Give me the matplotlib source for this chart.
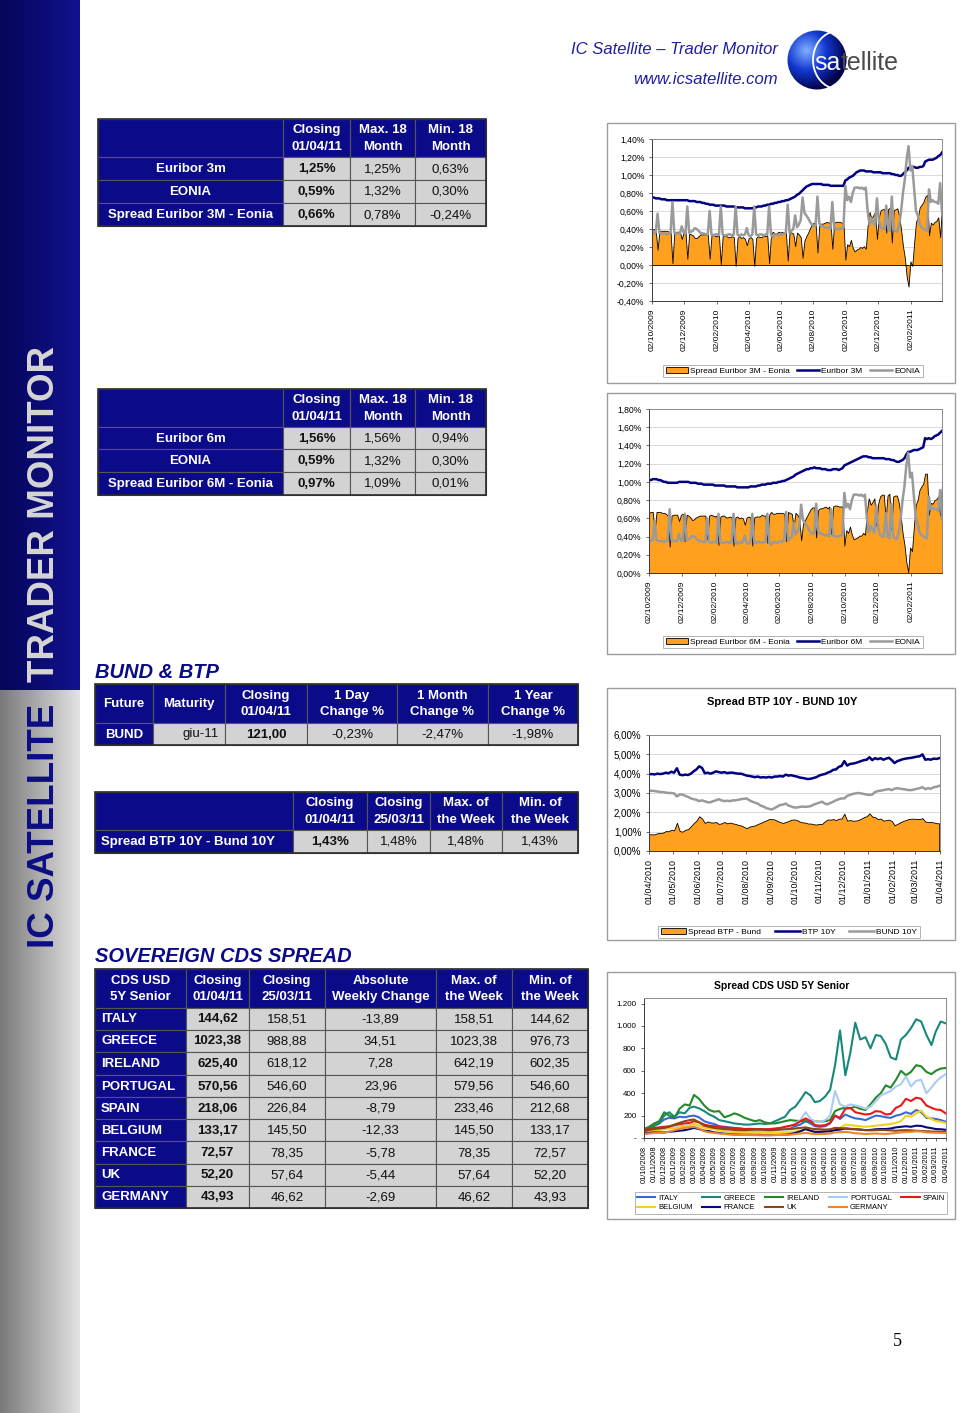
"""
IC Satellite - Trader Monitor, page 5: money market, BTP/Bund and sovereign CDS.
Run: python plot.py  -> out.png
"""
import numpy as np
import pandas as pd
import matplotlib
matplotlib.use("Agg")
import matplotlib.pyplot as plt
from matplotlib.dates import DateFormatter
from matplotlib.patches import Rectangle, Circle, Arc
from matplotlib.ticker import FuncFormatter, MultipleLocator
from matplotlib.colors import LinearSegmentedColormap

plt.rcParams['font.family'] = ['Liberation Sans', 'DejaVu Sans']

# ---------- table data ----------
T1_HEAD = ["", "Closing\n01/04/11", "Max. 18\nMonth", "Min. 18\nMonth"]
T1_ROWS = ["Euribor 3m", "EONIA", "Spread Euribor 3M - Eonia"]
T1_VALS = [["1,25%", "1,25%", "0,63%"],
           ["0,59%", "1,32%", "0,30%"],
           ["0,66%", "0,78%", "-0,24%"]]

T2_HEAD = ["", "Closing\n01/04/11", "Max. 18\nMonth", "Min. 18\nMonth"]
T2_ROWS = ["Euribor 6m", "EONIA", "Spread Euribor 6M - Eonia"]
T2_VALS = [["1,56%", "1,56%", "0,94%"],
           ["0,59%", "1,32%", "0,30%"],
           ["0,97%", "1,09%", "0,01%"]]

BUND_HEAD = ["Future", "Maturity", "Closing\n01/04/11", "1 Day\nChange %",
             "1 Month\nChange %", "1 Year\nChange %"]
BUND_ROWS = ["BUND"]
BUND_VALS = [["giu-11", "121,00", "-0,23%", "-2,47%", "-1,98%"]]

BTP_HEAD = ["", "Closing\n01/04/11", "Closing\n25/03/11", "Max. of\nthe Week", "Min. of\nthe Week"]
BTP_ROWS = ["Spread BTP 10Y - Bund 10Y"]
BTP_VALS = [["1,43%", "1,48%", "1,48%", "1,43%"]]

CDS_HEAD = ["CDS USD\n5Y Senior", "Closing\n01/04/11", "Closing\n25/03/11",
            "Absolute\nWeekly Change", "Max. of\nthe Week", "Min. of\nthe Week"]
CDS_ROWS = ["ITALY", "GREECE", "IRELAND", "PORTUGAL", "SPAIN", "BELGIUM", "FRANCE", "UK", "GERMANY"]
CDS_VALS = [["144,62", "158,51", "-13,89", "158,51", "144,62"],
            ["1023,38", "988,88", "34,51", "1023,38", "976,73"],
            ["625,40", "618,12", "7,28", "642,19", "602,35"],
            ["570,56", "546,60", "23,96", "579,56", "546,60"],
            ["218,06", "226,84", "-8,79", "233,46", "212,68"],
            ["133,17", "145,50", "-12,33", "145,50", "133,17"],
            ["72,57", "78,35", "-5,78", "78,35", "72,57"],
            ["52,20", "57,64", "-5,44", "57,64", "52,20"],
            ["43,93", "46,62", "-2,69", "46,62", "43,93"]]

# ---------- money market series (every 3.5 days, 02/10/2009 -> 01/04/2011), % ----------
EURIBOR_3M = [
    0.75, 0.75, 0.74, 0.74, 0.74, 0.73, 0.73, 0.73, 0.72, 0.72,
    0.72, 0.72, 0.72, 0.72, 0.72, 0.72, 0.72, 0.72, 0.72, 0.72,
    0.71, 0.71, 0.71, 0.71, 0.70, 0.70, 0.70, 0.69, 0.69, 0.68,
    0.68, 0.67, 0.67, 0.67, 0.66, 0.66, 0.66, 0.66, 0.66, 0.66,
    0.65, 0.65, 0.65, 0.65, 0.65, 0.64, 0.64, 0.64, 0.64, 0.64,
    0.63, 0.63, 0.63, 0.63, 0.63, 0.64, 0.64, 0.65, 0.65, 0.65,
    0.66, 0.66, 0.67, 0.67, 0.68, 0.68, 0.69, 0.69, 0.70, 0.70,
    0.71, 0.71, 0.72, 0.72, 0.73, 0.74, 0.75, 0.76, 0.78, 0.79,
    0.81, 0.83, 0.85, 0.87, 0.88, 0.89, 0.90, 0.90, 0.90, 0.90,
    0.90, 0.90, 0.89, 0.89, 0.89, 0.89, 0.88, 0.88, 0.88, 0.88,
    0.88, 0.88, 0.88, 0.88, 0.94, 0.95, 0.97, 0.98, 0.99, 1.01,
    1.03, 1.04, 1.05, 1.05, 1.05, 1.04, 1.04, 1.04, 1.04, 1.03,
    1.03, 1.03, 1.03, 1.03, 1.02, 1.02, 1.02, 1.02, 1.02, 1.01,
    1.01, 1.00, 1.00, 0.99, 0.99, 1.01, 1.03, 1.05, 1.08, 1.09,
    1.09, 1.09, 1.08, 1.08, 1.09, 1.09, 1.10, 1.15, 1.16, 1.17,
    1.17, 1.17, 1.18, 1.19, 1.21, 1.22, 1.25]

EURIBOR_6M = [
    1.02, 1.02, 1.03, 1.03, 1.03, 1.02, 1.02, 1.01, 1.00, 1.00,
    0.99, 0.99, 0.99, 0.99, 0.99, 0.99, 1.00, 1.00, 1.00, 1.00,
    1.00, 1.00, 0.99, 0.99, 0.99, 0.99, 0.98, 0.98, 0.98, 0.97,
    0.97, 0.97, 0.97, 0.97, 0.97, 0.96, 0.96, 0.96, 0.96, 0.96,
    0.96, 0.95, 0.95, 0.95, 0.95, 0.95, 0.95, 0.94, 0.94, 0.94,
    0.94, 0.94, 0.94, 0.94, 0.95, 0.95, 0.95, 0.95, 0.96, 0.96,
    0.97, 0.97, 0.97, 0.98, 0.98, 0.98, 0.99, 0.99, 0.99, 1.00,
    1.00, 1.01, 1.01, 1.02, 1.03, 1.04, 1.05, 1.06, 1.08, 1.09,
    1.10, 1.11, 1.12, 1.13, 1.14, 1.14, 1.15, 1.15, 1.16, 1.15,
    1.15, 1.15, 1.14, 1.14, 1.14, 1.13, 1.13, 1.13, 1.14, 1.14,
    1.14, 1.13, 1.14, 1.15, 1.18, 1.19, 1.20, 1.21, 1.22, 1.23,
    1.24, 1.25, 1.26, 1.27, 1.28, 1.28, 1.28, 1.27, 1.27, 1.26,
    1.26, 1.26, 1.26, 1.26, 1.26, 1.26, 1.25, 1.25, 1.25, 1.24,
    1.24, 1.23, 1.22, 1.22, 1.23, 1.24, 1.26, 1.30, 1.33, 1.33,
    1.34, 1.35, 1.35, 1.35, 1.36, 1.37, 1.38, 1.48, 1.47, 1.48,
    1.47, 1.48, 1.50, 1.51, 1.52, 1.54, 1.56]

EONIA = [
    0.36, 0.35, 0.36, 0.57, 0.36, 0.35, 0.35, 0.35, 0.34, 0.35,
    0.36, 0.70, 0.36, 0.35, 0.35, 0.35, 0.43, 0.36, 0.35, 0.65,
    0.36, 0.37, 0.38, 0.41, 0.40, 0.38, 0.36, 0.35, 0.35, 0.34,
    0.34, 0.60, 0.34, 0.33, 0.34, 0.34, 0.33, 0.65, 0.34, 0.33,
    0.33, 0.34, 0.34, 0.33, 0.34, 0.65, 0.34, 0.32, 0.34, 0.33,
    0.34, 0.41, 0.33, 0.32, 0.34, 0.65, 0.34, 0.33, 0.34, 0.34,
    0.33, 0.34, 0.34, 0.65, 0.34, 0.31, 0.34, 0.34, 0.33, 0.34,
    0.34, 0.35, 0.36, 0.67, 0.36, 0.38, 0.40, 0.55, 0.42, 0.45,
    0.50, 0.75, 0.58, 0.55, 0.52, 0.48, 0.45, 0.43, 0.44, 0.76,
    0.46, 0.44, 0.43, 0.42, 0.41, 0.42, 0.40, 0.70, 0.41, 0.40,
    0.40, 0.40, 0.41, 0.42, 0.88, 0.72, 0.76, 0.70, 0.80, 0.86,
    0.86, 0.86, 0.85, 0.86, 0.84, 0.86, 0.60, 0.45, 0.52, 0.48,
    0.44, 0.74, 0.50, 0.42, 0.40, 0.40, 0.66, 0.40, 0.38, 0.76,
    0.40, 0.38, 0.37, 0.45, 0.60, 0.80, 0.95, 1.18, 1.32, 1.05,
    1.10, 0.85, 0.60, 0.55, 0.45, 0.42, 0.40, 0.39, 0.38, 0.84,
    0.70, 0.72, 0.70, 0.70, 0.68, 0.91, 0.59]

# ---------- 10Y yields (every 3.5 days, 01/04/2010 -> 01/04/2011), % ----------
BTP_10Y = [
    3.97, 3.98, 3.96, 4.00, 3.98, 4.00, 4.05, 4.02, 4.10, 4.05,
    4.28, 3.95, 3.92, 3.95, 3.93, 4.00, 4.12, 4.22, 4.38, 4.30,
    4.02, 4.05, 4.00, 4.05, 4.12, 4.08, 4.05, 4.08, 4.03, 4.05,
    4.05, 4.02, 4.00, 4.00, 3.95, 3.90, 3.88, 3.85, 3.82, 3.85,
    3.80, 3.82, 3.80, 3.83, 3.80, 3.85, 3.85, 3.88, 3.85, 3.95,
    3.90, 3.92, 3.88, 3.85, 3.80, 3.78, 3.75, 3.72, 3.74, 3.78,
    3.82, 3.90, 3.95, 3.98, 4.05, 4.10, 4.20, 4.22, 4.35, 4.40,
    4.65, 4.42, 4.50, 4.52, 4.55, 4.60, 4.65, 4.70, 4.72, 4.85,
    4.70, 4.80, 4.75, 4.80, 4.72, 4.78, 4.82, 4.70, 4.55, 4.65,
    4.70, 4.75, 4.78, 4.80, 4.82, 4.85, 4.88, 4.90, 5.00, 4.72,
    4.75, 4.72, 4.78, 4.76, 4.80]

BUND_10Y = [
    3.10, 3.12, 3.10, 3.08, 3.05, 3.05, 3.02, 3.00, 3.00, 2.98,
    2.82, 2.92, 2.92, 2.85, 2.80, 2.72, 2.68, 2.65, 2.58, 2.62,
    2.57, 2.52, 2.52, 2.58, 2.62, 2.68, 2.62, 2.58, 2.60, 2.58,
    2.62, 2.62, 2.65, 2.68, 2.70, 2.72, 2.62, 2.55, 2.50, 2.45,
    2.35, 2.30, 2.22, 2.18, 2.15, 2.22, 2.30, 2.38, 2.40, 2.45,
    2.35, 2.30, 2.25, 2.25, 2.28, 2.30, 2.28, 2.30, 2.32, 2.40,
    2.45, 2.50, 2.55, 2.45, 2.42, 2.48, 2.55, 2.62, 2.68, 2.72,
    2.72, 2.85, 2.90, 2.95, 2.98, 3.00, 2.98, 2.95, 2.92, 2.90,
    2.92, 3.05, 3.10, 3.12, 3.15, 3.18, 3.20, 3.15, 3.22, 3.25,
    3.22, 3.20, 3.18, 3.15, 3.15, 3.18, 3.22, 3.25, 3.30, 3.20,
    3.25, 3.22, 3.30, 3.32, 3.37]

# ---------- CDS USD 5Y senior (1st and 16th of month, 01/10/2008 -> 01/04/2011), bp ----------
CDS_ITALY = [75, 90, 110, 130, 165, 180, 175, 190, 185, 195, 200, 185,
             150, 135, 125, 105, 100, 95, 90, 85, 80, 82, 80, 78,
             75, 78, 80, 85, 90, 95, 105, 120, 150, 130, 105, 100,
             105, 130, 200, 170, 210, 190, 175, 170, 160, 180, 200, 195,
             185, 180, 200, 210, 230, 215, 250, 230, 180, 175, 170, 160, 145]
CDS_GREECE = [75, 90, 110, 130, 200, 230, 190, 230, 220, 270, 280, 265,
              240, 210, 190, 160, 150, 140, 130, 125, 120, 120, 125, 130,
              125, 130, 150, 170, 190, 250, 280, 340, 410, 380, 320, 330,
              370, 430, 650, 960, 560, 760, 1030, 880, 900, 800, 920, 910,
              840, 720, 700, 880, 920, 980, 1060, 1040, 920, 830, 950, 1040, 1023]
CDS_IRELAND = [80, 100, 130, 150, 230, 200, 180, 260, 300, 290, 385, 350,
               290, 250, 235, 240, 185, 200, 220, 205, 180, 165, 150, 160,
               140, 130, 130, 140, 150, 160, 155, 150, 150, 150, 150, 145,
               150, 160, 240, 260, 270, 265, 280, 260, 250, 300, 360, 400,
               470, 450, 520, 600, 560, 590, 650, 640, 590, 570, 600, 620, 625]
CDS_PORTUGAL = [40, 50, 60, 70, 90, 100, 95, 110, 105, 115, 120, 110,
                95, 85, 80, 75, 70, 65, 65, 62, 60, 60, 58, 60,
                60, 62, 65, 75, 85, 100, 130, 160, 230, 170, 150, 140,
                160, 200, 420, 300, 280, 300, 290, 280, 260, 280, 330, 380,
                400, 420, 460, 480, 550, 460, 510, 520, 400, 450, 500, 540, 571]
CDS_SPAIN = [70, 80, 90, 95, 100, 105, 115, 125, 130, 135, 150, 140,
             120, 110, 105, 100, 95, 90, 88, 85, 80, 80, 78, 80,
             78, 80, 85, 90, 100, 110, 120, 150, 175, 150, 115, 110,
             115, 135, 200, 180, 260, 270, 230, 220, 210, 215, 240, 235,
             210, 215, 270, 290, 350, 330, 360, 350, 290, 270, 255, 250, 218]
CDS_BELGIUM = [40, 50, 60, 70, 80, 85, 90, 95, 100, 110, 130, 110,
               90, 85, 80, 70, 60, 55, 50, 48, 45, 45, 45, 45,
               45, 45, 48, 50, 52, 55, 58, 65, 75, 65, 55, 55,
               58, 65, 80, 90, 120, 115, 110, 105, 100, 105, 110, 115,
               120, 125, 135, 150, 200, 190, 220, 245, 190, 170, 150, 145, 133]
CDS_FRANCE = [40, 45, 50, 50, 50, 55, 60, 65, 70, 80, 90, 80,
              65, 60, 50, 45, 38, 35, 32, 30, 28, 28, 27, 27,
              26, 26, 27, 28, 30, 35, 45, 60, 80, 65, 55, 55,
              58, 60, 70, 75, 85, 80, 78, 75, 70, 72, 78, 80,
              80, 85, 95, 100, 105, 100, 110, 108, 95, 88, 80, 78, 73]
CDS_UK = [60, 70, 80, 85, 90, 100, 120, 135, 150, 160, 165, 140,
          110, 100, 90, 85, 80, 78, 72, 70, 70, 72, 75, 75,
          72, 70, 72, 75, 78, 80, 85, 90, 95, 85, 80, 78,
          75, 78, 90, 88, 85, 82, 80, 75, 70, 68, 70, 72,
          70, 68, 65, 68, 70, 68, 65, 63, 60, 58, 57, 56, 52]
CDS_GERMANY = [35, 40, 45, 48, 50, 55, 70, 80, 90, 95, 100, 85,
               60, 50, 45, 40, 35, 32, 30, 28, 27, 26, 26, 25,
               25, 25, 26, 27, 28, 30, 35, 40, 45, 40, 35, 35,
               36, 40, 50, 52, 55, 50, 42, 40, 35, 38, 40, 38,
               35, 40, 45, 50, 55, 55, 60, 58, 50, 48, 47, 46, 44]

CDS_SERIES = [("ITALY", CDS_ITALY), ("GREECE", CDS_GREECE), ("IRELAND", CDS_IRELAND),
              ("PORTUGAL", CDS_PORTUGAL), ("SPAIN", CDS_SPAIN), ("BELGIUM", CDS_BELGIUM),
              ("FRANCE", CDS_FRANCE), ("UK", CDS_UK), ("GERMANY", CDS_GERMANY)]

# ---------- styling ----------
W, H = 960, 1413
NAVY = '#0b0b8a'
CELL_GREY = '#d3d3d3'
ORANGE = '#ffa01e'
LINE_NAVY = '#000080'
LINE_GREY = '#9a9a9a'
CDS_COLORS = {"ITALY": '#3a68d8', "GREECE": '#17897a', "IRELAND": '#23892b',
              "PORTUGAL": '#a9ccf2', "SPAIN": '#e81818', "BELGIUM": '#f2d21c',
              "FRANCE": '#08087a', "UK": '#8a4616', "GERMANY": '#f0842a'}

fig = plt.figure(figsize=(W / 100, H / 100), dpi=100)
bg = fig.add_axes([0, 0, 1, 1])
bg.axis('off')
bg.set_xlim(0, W)
bg.set_ylim(H, 0)
bg.set_autoscale_on(False)


def add_axes_px(x0, y0, x1, y1):
    return fig.add_axes([x0 / W, 1 - y1 / H, (x1 - x0) / W, (y1 - y0) / H])


def fig_pt(x, y):
    return (x / W, 1 - y / H)


def cell(x0, y0, x1, y1, color):
    bg.add_patch(Rectangle((x0, y0), x1 - x0, y1 - y0, facecolor=color,
                           edgecolor='#555555', lw=0.8, zorder=2))


def draw_table(xs, ys, head, labels, values, label_ha='center', aligns=None, bold_col=0, fs=9.5):
    ncol = len(xs) - 1
    for c in range(ncol):
        cell(xs[c], ys[0], xs[c + 1], ys[1], NAVY)
        if head[c]:
            bg.text((xs[c] + xs[c + 1]) / 2, (ys[0] + ys[1]) / 2 + 0.5, head[c], color='white',
                    fontweight='bold', fontsize=fs, ha='center', va='center', linespacing=1.5, zorder=3)
    for r, lab in enumerate(labels):
        y0, y1 = ys[r + 1], ys[r + 2]
        ym = (y0 + y1) / 2 + 0.5
        cell(xs[0], y0, xs[1], y1, NAVY)
        if label_ha == 'left':
            bg.text(xs[0] + 6, ym, lab, color='white', fontweight='bold', fontsize=fs,
                    ha='left', va='center', zorder=3)
        else:
            bg.text((xs[0] + xs[1]) / 2, ym, lab, color='white', fontweight='bold', fontsize=fs,
                    ha='center', va='center', zorder=3)
        for c, v in enumerate(values[r]):
            x0, x1 = xs[c + 1], xs[c + 2]
            cell(x0, y0, x1, y1, CELL_GREY)
            ha = aligns[c] if aligns else 'center'
            tx = x1 - 6 if ha == 'right' else (x0 + x1) / 2
            bg.text(tx, ym, v, color='#111111', fontsize=fs, ha=ha, va='center',
                    fontweight='bold' if c == bold_col else 'normal', zorder=3)
    bg.add_patch(Rectangle((xs[0], ys[0]), xs[-1] - xs[0], ys[-1] - ys[0], fill=False,
                           edgecolor='#2a2a2a', lw=1.2, zorder=4))


# ---------- side bar ----------
ramp = np.linspace(0, 1, 80).reshape(1, -1)
bg.imshow(ramp, extent=(0, 80, 690, 0), aspect='auto', zorder=1,
          cmap=LinearSegmentedColormap.from_list('nv', ['#05055a', '#12128e']))
bg.imshow(ramp, extent=(0, 80, H, 690), aspect='auto', zorder=1,
          cmap=LinearSegmentedColormap.from_list('gr', ['#7a7a7a', '#e2e2e2']))
bg.text(45, 682, 'TRADER MONITOR', rotation=90, ha='center', va='bottom', color='#d6d6d6',
        fontsize=26.5, fontweight='bold', zorder=3)
bg.text(45, 948, 'IC SATELLITE', rotation=90, ha='center', va='bottom', color='#0c0c84',
        fontsize=26.5, fontweight='bold', zorder=3)

# ---------- header + logo ----------
bg.text(778, 50, 'IC Satellite \u2013 Trader Monitor', ha='right', va='center', fontsize=12,
        style='italic', color='#1f1fa0')
bg.text(778, 79, 'www.icsatellite.com', ha='right', va='center', fontsize=12,
        style='italic', color='#1f1fa0')
gy, gx = np.mgrid[30:91, 786:849]
glow = np.clip(np.hypot(gx - 806, gy - 50) / 40.0, 0, 1)
sphere = bg.imshow(glow, extent=(786, 849, 91, 30), aspect='auto', zorder=2,
                   cmap=LinearSegmentedColormap.from_list('sp', ['#7fb0ff', '#1238d0', '#020248']))
sphere.set_clip_path(Circle((817, 60), 29.5, transform=bg.transData))
bg.add_patch(Arc((838, 60), 50, 58, theta1=105, theta2=255, color='white', lw=1.3, zorder=3))
renderer = fig.canvas.get_renderer()
t_sa = bg.text(814, 70, 'sa', fontsize=18, color='#f4f4f4', va='baseline', ha='left', zorder=4)
sa_end = bg.transData.inverted().transform(t_sa.get_window_extent(renderer).get_points())[1][0]
bg.text(sa_end, 70, 'tellite', fontsize=18, color='#4a4a4a', va='baseline', ha='left', zorder=3)

# ---------- tables ----------
draw_table([98, 283, 350, 415, 486], [119, 157, 180, 203, 226], T1_HEAD, T1_ROWS, T1_VALS)
draw_table([98, 283, 350, 415, 486], [389, 427, 449, 472, 495], T2_HEAD, T2_ROWS, T2_VALS)

bg.text(95, 672, 'BUND & BTP', fontsize=14.5, fontweight='bold', style='italic', color=NAVY, va='center')
draw_table([95, 153, 225, 307, 397, 488, 578], [684, 723, 745], BUND_HEAD, BUND_ROWS, BUND_VALS,
           aligns=['right', 'center', 'center', 'center', 'center'], bold_col=1)
draw_table([95, 293, 367, 430, 502, 578], [792, 830, 853], BTP_HEAD, BTP_ROWS, BTP_VALS,
           label_ha='left')

bg.text(95, 957, 'SOVEREIGN CDS SPREAD', fontsize=14.5, fontweight='bold', style='italic',
        color=NAVY, va='center')
draw_table([95, 186, 249, 325, 436, 512, 588],
           [969, 1008, 1030, 1052, 1075, 1097, 1119, 1141, 1164, 1186, 1208],
           CDS_HEAD, CDS_ROWS, CDS_VALS, label_ha='left')

bg.text(897, 1342, '5', family='Liberation Serif', fontsize=13, ha='center', va='center')

# chart frames
for (x0, y0, x1, y1) in [(607, 123, 955, 383), (607, 393, 955, 654),
                         (607, 688, 955, 940), (607, 972, 955, 1219)]:
    bg.add_patch(Rectangle((x0, y0), x1 - x0, y1 - y0, facecolor='white',
                           edgecolor='#9c9c9c', lw=1.0, zorder=1))
bg.text(782, 702, 'Spread BTP 10Y - BUND 10Y', fontsize=8, fontweight='bold', ha='center', va='center')
bg.text(782, 986, 'Spread CDS USD 5Y Senior', fontsize=7.5, fontweight='bold', ha='center', va='center')


# ---------- charts ----------
def pct_fmt(v, _):
    v = round(v, 2) + 0.0
    return f"{v:.2f}%".replace('.', ',')


def cds_fmt(v, _):
    if abs(v) < 1e-9:
        return '-'
    return f"{int(round(v)):,}".replace(',', '.')


def style_chart(ax, ysize, xsize):
    ax.tick_params(axis='both', length=2.5, width=0.6, color='#555555', pad=2)
    ax.tick_params(axis='y', labelsize=ysize, pad=3)
    ax.tick_params(axis='x', labelsize=xsize, rotation=90, pad=3)
    for s in ax.spines.values():
        s.set_color('#8c8c8c')
        s.set_linewidth(0.7)
    ax.spines['left'].set_color('#3c3c3c')
    ax.spines['bottom'].set_color('#3c3c3c')


def chart_legend(ax, handles, labels, cx, cy, ncol, fs, **kw):
    leg = ax.legend(handles, labels, loc='center', bbox_to_anchor=fig_pt(cx, cy),
                    bbox_transform=fig.transFigure, ncol=ncol, fontsize=fs, frameon=True,
                    fancybox=False, edgecolor='#a0a0a0', borderpad=0.3, **kw)
    leg.get_frame().set_linewidth(0.7)
    return leg


n_mm = min(len(EONIA), len(EURIBOR_3M), len(EURIBOR_6M))
mm_dates = pd.date_range('2009-10-02', periods=n_mm, freq='84h')
eonia = np.array(EONIA[:n_mm])
eur3 = np.array(EURIBOR_3M[:n_mm])
eur6 = np.array(EURIBOR_6M[:n_mm])
mm_ticks = pd.date_range('2009-10-01', periods=9, freq='2MS') + pd.Timedelta(days=1)

for box, eur, ylim, name, leg_y in [((652, 139, 942, 301), eur3, (-0.4, 1.4), '3M', 371),
                                    ((649, 409, 942, 573), eur6, (0.0, 1.8), '6M', 642)]:
    ax = add_axes_px(*box)
    area = ax.fill_between(mm_dates, 0, eur - eonia, facecolor=ORANGE, edgecolor='black', lw=0.6)
    l1, = ax.plot(mm_dates, eur, color=LINE_NAVY, lw=1.8)
    l2, = ax.plot(mm_dates, eonia, color=LINE_GREY, lw=1.8)
    ax.set_ylim(*ylim)
    ax.set_xlim(mm_dates[0], mm_dates[-1])
    ax.yaxis.set_major_locator(MultipleLocator(0.2))
    ax.yaxis.set_major_formatter(FuncFormatter(pct_fmt))
    ax.set_xticks(mm_ticks)
    ax.xaxis.set_major_formatter(DateFormatter('%d/%m/%Y'))
    ax.yaxis.grid(True, color='#d4d4d4', lw=0.6)
    ax.set_axisbelow(True)
    style_chart(ax, 6.2, 6.0)
    chart_legend(ax, [area, l1, l2], [f'Spread Euribor {name} - Eonia', f'Euribor {name}', 'EONIA'],
                 793, leg_y, 3, 6.0, handlelength=2.6, handletextpad=0.3, columnspacing=0.9)

# BTP - Bund
n_y = min(len(BTP_10Y), len(BUND_10Y))
y_dates = pd.date_range('2010-04-01', periods=n_y, freq='84h')
btp = np.array(BTP_10Y[:n_y])
bund = np.array(BUND_10Y[:n_y])
ax3 = add_axes_px(649, 735, 940, 851)
area = ax3.fill_between(y_dates, 0, btp - bund, facecolor=ORANGE, edgecolor='black', lw=0.6)
l1, = ax3.plot(y_dates, btp, color=LINE_NAVY, lw=1.8)
l2, = ax3.plot(y_dates, bund, color=LINE_GREY, lw=1.8)
ax3.set_ylim(0, 6)
ax3.set_xlim(pd.Timestamp('2010-04-01'), pd.Timestamp('2011-04-01'))
ax3.yaxis.set_major_locator(MultipleLocator(1))
ax3.yaxis.set_major_formatter(FuncFormatter(pct_fmt))
ax3.set_xticks(pd.date_range('2010-04-01', '2011-04-01', freq='MS'))
ax3.xaxis.set_major_formatter(DateFormatter('%d/%m/%Y'))
ax3.yaxis.grid(True, color='#d4d4d4', lw=0.6)
ax3.set_axisbelow(True)
style_chart(ax3, 7.0, 6.4)
chart_legend(ax3, [area, l1, l2], ['Spread BTP - Bund', 'BTP 10Y', 'BUND 10Y'],
             789, 932, 3, 6.0, handlelength=3.0, handletextpad=0.3, columnspacing=1.6)

# CDS
months = pd.date_range('2008-10-01', '2011-04-01', freq='MS')
cds_dates = months.append(months[:-1] + pd.Timedelta(days=15)).sort_values()
ax4 = add_axes_px(644, 998, 946, 1138)
cds_lines = {}
for name, vals in CDS_SERIES:
    k = min(len(vals), len(cds_dates))
    cds_lines[name], = ax4.plot(cds_dates[:k], vals[:k], color=CDS_COLORS[name], lw=1.5)
ax4.set_ylim(0, 1250)
ax4.set_xlim(cds_dates[0], cds_dates[-1])
ax4.set_yticks([0, 200, 400, 600, 800, 1000, 1200])
ax4.yaxis.set_major_formatter(FuncFormatter(cds_fmt))
ax4.set_xticks(months)
ax4.xaxis.set_major_formatter(DateFormatter('%d/%m/%Y'))
style_chart(ax4, 5.8, 5.3)
order = ["ITALY", "BELGIUM", "GREECE", "FRANCE", "IRELAND", "UK", "PORTUGAL", "GERMANY", "SPAIN"]
chart_legend(ax4, [cds_lines[o] for o in order], order, 791, 1203, 5, 5.5,
             handlelength=2.4, handletextpad=0.4, columnspacing=1.2, labelspacing=0.25)

fig.savefig('out.png', dpi=100)
